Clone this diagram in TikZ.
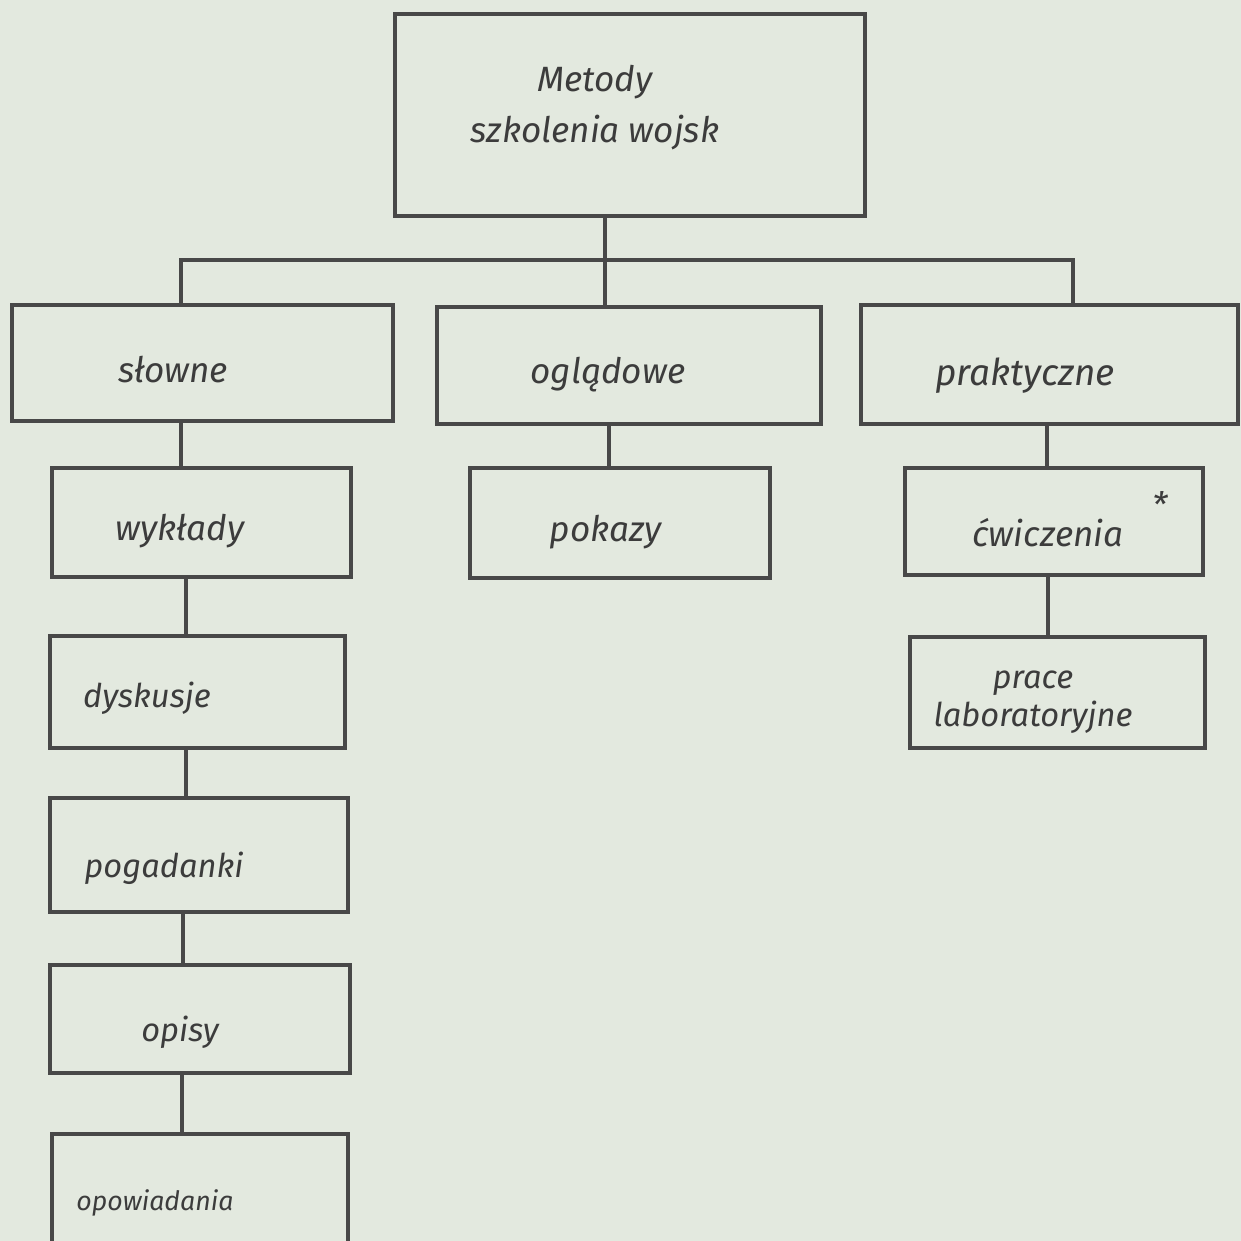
\documentclass[tikz,border=0pt]{standalone}
\usepackage{fontspec}
\setmainfont{Fira Sans}
\definecolor{papier}{RGB}{227,233,223}
\definecolor{olowek}{RGB}{72,72,72}
\definecolor{pismo}{RGB}{60,60,60}
\tikzset{
  box/.style={draw=olowek, line width=1.05pt, rectangle, inner sep=0pt},
  lbl/.style={text=pismo, font=\itshape\fontsize{10}{14.5}\selectfont, inner sep=0pt},
  small/.style={font=\itshape\fontsize{9.3}{10.8}\selectfont},
  wire/.style={draw=olowek, line width=1.05pt}
}
\begin{document}
\begin{tikzpicture}
    % Paper
    \fill[papier] (0,0) rectangle (12.41,-12.41);
    \useasboundingbox (0,0) rectangle (12.41,-12.41);
    \clip (0,0) rectangle (12.41,-12.41);
    % Boxes
    \node[box, minimum width=4.70cm, minimum height=2.02cm] (metody) at (6.300,-1.150) {};
    \node[box, minimum width=3.81cm, minimum height=1.16cm] (slowne) at (2.025,-3.630) {};
    \node[box, minimum width=3.84cm, minimum height=1.17cm] (ogladowe) at (6.290,-3.655) {};
    \node[box, minimum width=3.77cm, minimum height=1.19cm] (praktyczne) at (10.495,-3.645) {};
    \node[box, minimum width=2.99cm, minimum height=1.09cm] (wyklady) at (2.015,-5.225) {};
    \node[box, minimum width=3.00cm, minimum height=1.10cm] (pokazy) at (6.200,-5.230) {};
    \node[box, minimum width=2.98cm, minimum height=1.07cm] (cwiczenia) at (10.540,-5.215) {};
    \node[box, minimum width=2.95cm, minimum height=1.12cm] (dyskusje) at (1.975,-6.920) {};
    \node[box, minimum width=2.95cm, minimum height=1.11cm] (prace) at (10.575,-6.925) {};
    \node[box, minimum width=2.98cm, minimum height=1.14cm] (pogadanki) at (1.990,-8.550) {};
    \node[box, minimum width=3.00cm, minimum height=1.08cm] (opisy) at (2.000,-10.190) {};
    \node[box, minimum width=2.96cm, minimum height=1.16cm] (opowiadania) at (2.000,-11.920) {};
    % Texts
    \node[lbl, align=center] (metody-t) at (5.95,-1.08) {Metody\\szkolenia wojsk};
    \node[lbl] (slowne-t) at (1.73,-3.70) {słowne};
    \node[lbl] (ogladowe-t) at (6.08,-3.75) {oglądowe};
    \node[lbl, font=\itshape\fontsize{10.5}{12}\selectfont] (praktyczne-t) at (10.25,-3.76) {praktyczne};
    \node[lbl] (wyklady-t) at (1.80,-5.31) {wykłady};
    \node[lbl] (pokazy-t) at (6.06,-5.32) {pokazy};
    \node[lbl] (cwiczenia-t) at (10.48,-5.33) {ćwiczenia};
    \node[lbl] (gwiazdka) at (11.60,-5.05) {*};
    \node[lbl, small, align=center] (prace-t) at (10.33,-7.02) {prace\\laboratoryjne};
    \node[lbl, small] (dyskusje-t) at (1.47,-6.98) {dyskusje};
    \node[lbl, small] (pogadanki-t) at (1.64,-8.68) {pogadanki};
    \node[lbl, small] (opisy-t) at (1.80,-10.32) {opisy};
    \node[lbl, font=\itshape\fontsize{7.6}{9}\selectfont] (opowiadania-t) at (1.55,-12.03) {opowiadania};
    % Bus
    \coordinate (busL) at (1.81,-2.60);
    \coordinate (busM) at (6.05,-2.60);
    \coordinate (busR) at (10.73,-2.60);
    \draw[wire] (metody.south -| busM) -- (ogladowe.north -| busM);
    \draw[wire] (slowne.north -| busL) -- (busL) -- (busR) -- (praktyczne.north -| busR);
    % Columns
    \draw[wire] (slowne.south -| 1.81,0) -- (wyklady.north -| 1.81,0);
    \draw[wire] (wyklady.south -| 1.86,0) -- (dyskusje.north -| 1.86,0);
    \draw[wire] (dyskusje.south -| 1.86,0) -- (pogadanki.north -| 1.86,0);
    \draw[wire] (pogadanki.south -| 1.83,0) -- (opisy.north -| 1.83,0);
    \draw[wire] (opisy.south -| 1.82,0) -- (opowiadania.north -| 1.82,0);
    \draw[wire] (ogladowe.south -| 6.09,0) -- (pokazy.north -| 6.09,0);
    \draw[wire] (praktyczne.south -| 10.47,0) -- (cwiczenia.north -| 10.47,0);
    \draw[wire] (cwiczenia.south -| 10.48,0) -- (prace.north -| 10.48,0);
\end{tikzpicture}
\end{document}
